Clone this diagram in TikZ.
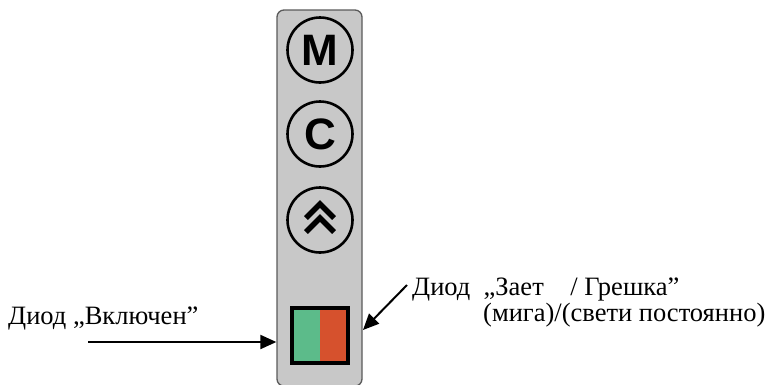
\documentclass[tikz,border=0pt]{standalone}
\usepackage{fontspec}
\setmainfont{Liberation Serif}
\newfontfamily\btnfont{Liberation Sans}
\usetikzlibrary{arrows.meta,calc}
\definecolor{panelgray}{HTML}{C8C8C8}
\definecolor{paneledge}{HTML}{5A5A5A}
\definecolor{ledgreen}{HTML}{5CBB8A}
\definecolor{ledred}{HTML}{D6512D}
\tikzset{
  panelbox/.style={draw=paneledge, line width=1.3pt, fill=panelgray, rounded corners=7pt,
    minimum width=85pt, minimum height=376pt, inner sep=0pt},
  btn/.style={circle, draw=black, line width=2.6pt, minimum size=65pt, inner sep=0pt,
    font=\btnfont\bfseries\fontsize{44}{44}\selectfont},
  chev/.style={line width=5.5pt, miter limit=10, line join=miter},
  ledbox/.style={draw=black, line width=4pt, minimum width=56pt, minimum height=55pt, inner sep=0pt,
    path picture={
      \fill[ledgreen] (path picture bounding box.south west) rectangle (path picture bounding box.north);
      \fill[ledred] (path picture bounding box.south) rectangle (path picture bounding box.north east);
    }},
  lbl/.style={anchor=base west, inner sep=0pt, font=\fontsize{26.5}{30}\selectfont},
  pointer/.style={line width=2pt, -{Triangle[length=16pt, width=14pt]}}
}
\begin{document}
\begin{tikzpicture}[x=1pt, y=-1pt]
\useasboundingbox (0,0) rectangle (770,384);
\node[panelbox] (panel) at (319.5,198) {};
\node[btn] (m) at (320,50) {M};
\node[btn] (c) at (320,134) {C};
\node[btn] (up) at (320,220) {};
\draw[chev] ($(up)+(-14,-2)$) -- ($(up)+(0,-16)$) -- ($(up)+(14,-2)$);
\draw[chev] ($(up)+(-14,12)$) -- ($(up)+(0,-2)$) -- ($(up)+(14,12)$);
\node[ledbox] (led) at (320,335.5) {};
\node[lbl] (on) at (8,324.5) {Диод „Включен”};
\node[lbl] (busy) at (412,295) {Диод\ \ „Зает\ \ \ \ / Грешка”};
\node[lbl] (mode) at (483,321) {(мига)/(свети постоянно)};
\coordinate (a1) at (88,342);
\draw[pointer] (a1) -- (a1 -| panel.west);
\coordinate (a2) at (407,285);
\coordinate (t2) at (363,330);
\draw[pointer] (a2) -- (t2);
\end{tikzpicture}
\end{document}
